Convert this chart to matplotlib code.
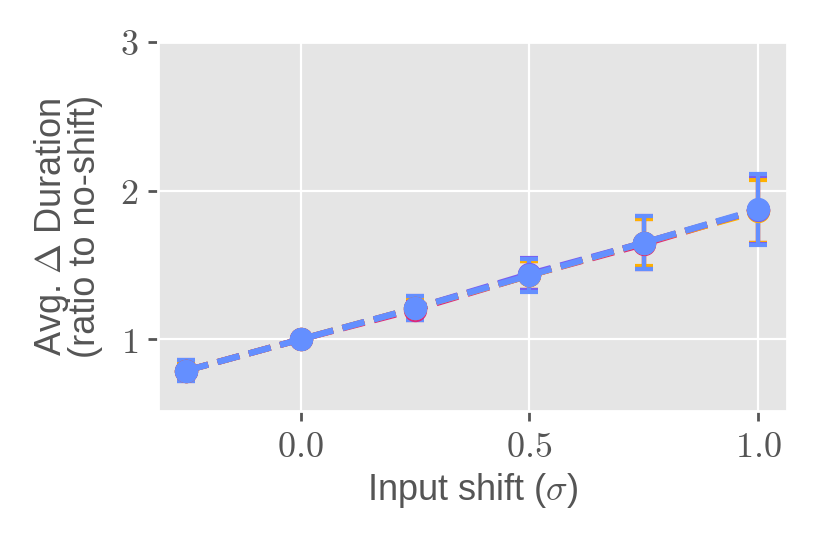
import numpy as np
import matplotlib
matplotlib.use("Agg")
import matplotlib.pyplot as plt
from matplotlib.ticker import FuncFormatter

plt.style.use("ggplot")
plt.rcParams["mathtext.fontset"] = "cm"
plt.rcParams["font.family"] = ["Liberation Sans Narrow", "Liberation Sans", "DejaVu Sans"]

shifts = [-0.25, 0.0, 0.25, 0.5, 0.75, 1.0]

# one row per model, drawn in this order (last one ends up on top)
colors = ["#DC267F", "#FE6100", "#FFB000", "#785EF0", "#648FFF"]
means = [
    [0.79, 1.0, 1.20, 1.43, 1.64, 1.87],
    [0.79, 1.0, 1.21, 1.43, 1.65, 1.87],
    [0.79, 1.0, 1.21, 1.43, 1.65, 1.86],
    [0.79, 1.0, 1.21, 1.44, 1.65, 1.87],
    [0.79, 1.0, 1.21, 1.43, 1.65, 1.875],
]
errs = [
    [0.06, 0.0, 0.07, 0.10, 0.17, 0.22],
    [0.06, 0.0, 0.07, 0.10, 0.17, 0.22],
    [0.06, 0.0, 0.07, 0.10, 0.16, 0.21],
    [0.07, 0.0, 0.08, 0.11, 0.18, 0.23],
    [0.07, 0.0, 0.08, 0.11, 0.18, 0.24],
]

fig = plt.figure(figsize=(4.15, 2.72), dpi=200)
ax = fig.add_axes([0.190, 0.245, 0.758, 0.678])

for c, m, e in zip(colors, means, errs):
    ax.errorbar(shifts, m, yerr=e, color=c, ls="--", lw=2.2, marker="o",
                ms=7.4, elinewidth=1.5, capsize=3.2, capthick=1.5)

ax.set_ylim(0.52, 3.0)
ax.set_yticks([1, 2, 3])
ax.set_xticks([0.0, 0.5, 1.0])
ax.xaxis.set_major_formatter(FuncFormatter(lambda v, p: f"${v:.1f}$"))
ax.yaxis.set_major_formatter(FuncFormatter(lambda v, p: f"${v:g}$"))
ax.tick_params(labelsize=13, colors="#555555", length=3.5, width=1)
for t in ax.get_xticklabels() + ax.get_yticklabels():
    t.set_color("#555555")

ax.set_xlabel(r"Input shift ($\sigma$)", fontsize=13, color="#555555", labelpad=2)
ax.set_ylabel("Avg. $\\Delta$ Duration\n(ratio to no-shift)", fontsize=13,
              color="#555555", labelpad=6, linespacing=0.9)

fig.savefig("out.png", dpi=200)
